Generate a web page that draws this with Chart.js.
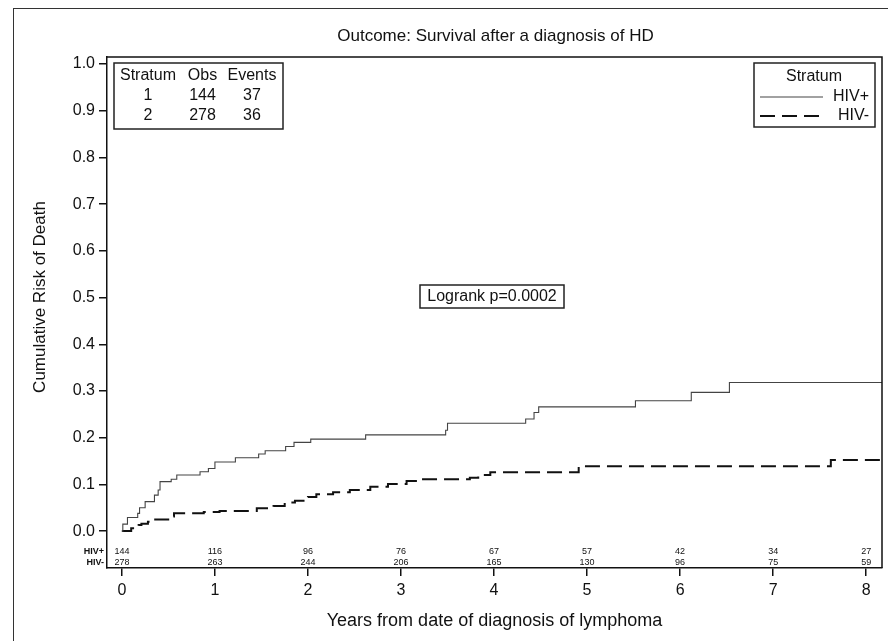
<!DOCTYPE html>
<html>
<head>
<meta charset="utf-8">
<script src="https://cdn.jsdelivr.net/npm/chart.js@4.4.1/dist/chart.umd.min.js"></script>
<style>
  html, body { margin: 0; padding: 0; background: #fff; }
  #c { display: block; }
</style>
</head>
<body>
<canvas id="c" width="888" height="641"></canvas>
<script>
// ---------------- data ----------------
const chartTitle = 'Outcome: Survival after a diagnosis of HD';
const xTitle = 'Years from date of diagnosis of lymphoma';
const yTitle = 'Cumulative Risk of Death';
const logrankText = 'Logrank p=0.0002';

const xTickValues = [0, 1, 2, 3, 4, 5, 6, 7, 8];
const yTickValues = [0, 0.1, 0.2, 0.3, 0.4, 0.5, 0.6, 0.7, 0.8, 0.9, 1.0];

const seriesLabels = ['HIV+', 'HIV-'];

// HIV+ step curve: time of jump (years) and cumulative risk after jump
const hivPosTimes = [0, 0.01, 0.06, 0.17, 0.19, 0.25, 0.35, 0.39, 0.41, 0.53, 0.59, 0.84, 0.93, 1.0, 1.22, 1.47, 1.54, 1.76, 1.85, 2.03, 2.62, 3.48, 3.50, 4.34, 4.43, 4.48, 5.52, 6.12, 6.53, 8.17];
const hivPosRisk  = [0, 0.015, 0.029, 0.038, 0.050, 0.063, 0.077, 0.088, 0.106, 0.111, 0.120, 0.127, 0.134, 0.148, 0.157, 0.165, 0.172, 0.181, 0.190, 0.197, 0.206, 0.216, 0.231, 0.240, 0.254, 0.266, 0.279, 0.297, 0.318, 0.318];

// HIV- step curve
const hivNegTimes = [0, 0.10, 0.18, 0.21, 0.28, 0.34, 0.52, 0.56, 0.88, 1.05, 1.45, 1.63, 1.75, 1.86, 2.00, 2.09, 2.27, 2.45, 2.67, 2.86, 3.06, 3.19, 3.74, 3.83, 3.96, 4.91, 7.62, 8.17];
const hivNegRisk  = [0, 0.006, 0.013, 0.016, 0.020, 0.025, 0.031, 0.038, 0.041, 0.043, 0.049, 0.054, 0.061, 0.065, 0.073, 0.079, 0.083, 0.088, 0.095, 0.101, 0.107, 0.111, 0.114, 0.120, 0.126, 0.139, 0.152, 0.152];

// numbers at risk at each year tick
const atRiskPos = [144, 116, 96, 76, 67, 57, 42, 34, 27];
const atRiskNeg = [278, 263, 244, 206, 165, 130, 96, 75, 59];

// summary table
const statsHeader = ['Stratum', 'Obs', 'Events'];
const statsStratum = ['1', '2'];
const statsObs = ['144', '278'];
const statsEvents = ['37', '36'];

// ---------------- chart ----------------
const FONT = "'Liberation Sans', Arial, Helvetica, sans-serif";
const toPts = (xs, ys) => xs.map((x, i) => ({ x: x, y: ys[i] }));

const lineStyles = [
  { color: '#444', width: 1.1, dash: [] },
  { color: '#111', width: 2, dash: [15, 7] }
];

const decorPlugin = {
  id: 'decor',
  afterDraw(chart) {
    const ctx = chart.ctx;
    const a = chart.chartArea;
    const xs = chart.scales.x;
    ctx.save();
    // outer frame
    ctx.strokeStyle = '#333';
    ctx.lineWidth = 1;
    ctx.strokeRect(13.5, 8.5, 1000, 1000);
    // plot frame (top and right)
    ctx.strokeStyle = '#111';
    ctx.lineWidth = 1.5;
    ctx.beginPath();
    ctx.moveTo(a.left, a.top);
    ctx.lineTo(a.right, a.top);
    ctx.lineTo(a.right, a.bottom);
    ctx.stroke();

    ctx.fillStyle = '#111';
    ctx.textBaseline = 'middle';
    // title
    ctx.font = '17px ' + FONT;
    ctx.textAlign = 'center';
    ctx.fillText(chartTitle, (a.left + a.right) / 2 + 1, 36);
    // x title
    ctx.font = '18px ' + FONT;
    ctx.fillText(xTitle, (a.left + a.right) / 2, 621);
    // y title
    ctx.save();
    ctx.translate(40, 297);
    ctx.rotate(-Math.PI / 2);
    ctx.font = '17px ' + FONT;
    ctx.fillText(yTitle, 0, 0);
    ctx.restore();

    // numbers at risk
    ctx.font = '9px ' + FONT;
    const yPos = 551.5, yNeg = 563;
    xTickValues.forEach((v, i) => {
      const px = xs.getPixelForValue(v);
      ctx.textAlign = 'center';
      ctx.fillText(String(atRiskPos[i]), px, yPos);
      ctx.fillText(String(atRiskNeg[i]), px, yNeg);
    });
    ctx.font = 'bold 9px ' + FONT;
    ctx.textAlign = 'right';
    ctx.fillText(seriesLabels[0], a.left - 3, yPos);
    ctx.fillText(seriesLabels[1], a.left - 3, yNeg);

    // stats box
    ctx.strokeStyle = '#222';
    ctx.lineWidth = 1.5;
    ctx.strokeRect(114, 63, 169, 66);
    ctx.font = '16px ' + FONT;
    ctx.textAlign = 'center';
    const colX = [148, 202.5, 252];
    const rowY = [75.5, 96, 116];
    statsHeader.forEach((t, i) => ctx.fillText(t, colX[i], rowY[0]));
    for (let r = 0; r < statsStratum.length; r++) {
      ctx.fillText(statsStratum[r], colX[0], rowY[r + 1]);
      ctx.fillText(statsObs[r], colX[1], rowY[r + 1]);
      ctx.fillText(statsEvents[r], colX[2], rowY[r + 1]);
    }

    // legend box
    ctx.strokeRect(754, 63, 121, 64);
    ctx.fillText('Stratum', 814, 76.5);
    const legY = [97, 116];
    seriesLabels.forEach((lab, i) => {
      const st = lineStyles[i];
      ctx.save();
      ctx.strokeStyle = st.color;
      ctx.lineWidth = st.width;
      ctx.setLineDash(st.dash);
      ctx.beginPath();
      ctx.moveTo(760, legY[i]);
      ctx.lineTo(823, legY[i]);
      ctx.stroke();
      ctx.restore();
      ctx.textAlign = 'right';
      ctx.fillText(lab, 869, legY[i]);
    });

    // logrank box
    ctx.strokeRect(420, 285, 144, 23);
    ctx.textAlign = 'center';
    ctx.fillText(logrankText, 492, 297);
    ctx.restore();
  }
};

new Chart(document.getElementById('c'), {
  type: 'line',
  data: {
    datasets: [
      {
        label: seriesLabels[0],
        data: toPts(hivPosTimes, hivPosRisk),
        stepped: true,
        borderColor: lineStyles[0].color,
        borderWidth: lineStyles[0].width,
        borderDash: lineStyles[0].dash,
        pointRadius: 0,
        fill: false
      },
      {
        label: seriesLabels[1],
        data: toPts(hivNegTimes, hivNegRisk),
        stepped: true,
        borderColor: lineStyles[1].color,
        borderWidth: lineStyles[1].width,
        borderDash: lineStyles[1].dash,
        pointRadius: 0,
        fill: false
      }
    ]
  },
  options: {
    responsive: false,
    animation: false,
    devicePixelRatio: 1,
    layout: { padding: { left: 0, top: 57, right: 6, bottom: 0 } },
    plugins: {
      legend: { display: false },
      title: { display: false },
      tooltip: { enabled: false }
    },
    scales: {
      x: {
        type: 'linear',
        min: -0.16,
        max: 8.17,
        afterBuildTicks: (s) => { s.ticks = xTickValues.map(v => ({ value: v })); },
        afterFit: (s) => { s.height = 73; },
        grid: { drawOnChartArea: false, drawTicks: true, tickLength: 8, color: '#111', lineWidth: 1.5 },
        border: { display: true, color: '#111', width: 1.5 },
        ticks: {
          color: '#111',
          font: { family: FONT, size: 16 },
          padding: 5,
          maxRotation: 0,
          autoSkip: false,
          callback: (v) => String(v)
        }
      },
      y: {
        type: 'linear',
        min: -0.079,
        max: 1.015,
        afterBuildTicks: (s) => { s.ticks = yTickValues.map(v => ({ value: v })); },
        afterFit: (s) => { s.width = 107; },
        grid: { drawOnChartArea: false, drawTicks: true, tickLength: 8, color: '#111', lineWidth: 1.5 },
        border: { display: true, color: '#111', width: 1.5 },
        ticks: {
          color: '#111',
          font: { family: FONT, size: 16 },
          padding: 4,
          autoSkip: false,
          callback: (v) => Number(v).toFixed(1)
        }
      }
    }
  },
  plugins: [decorPlugin]
});
</script>
</body>
</html>
